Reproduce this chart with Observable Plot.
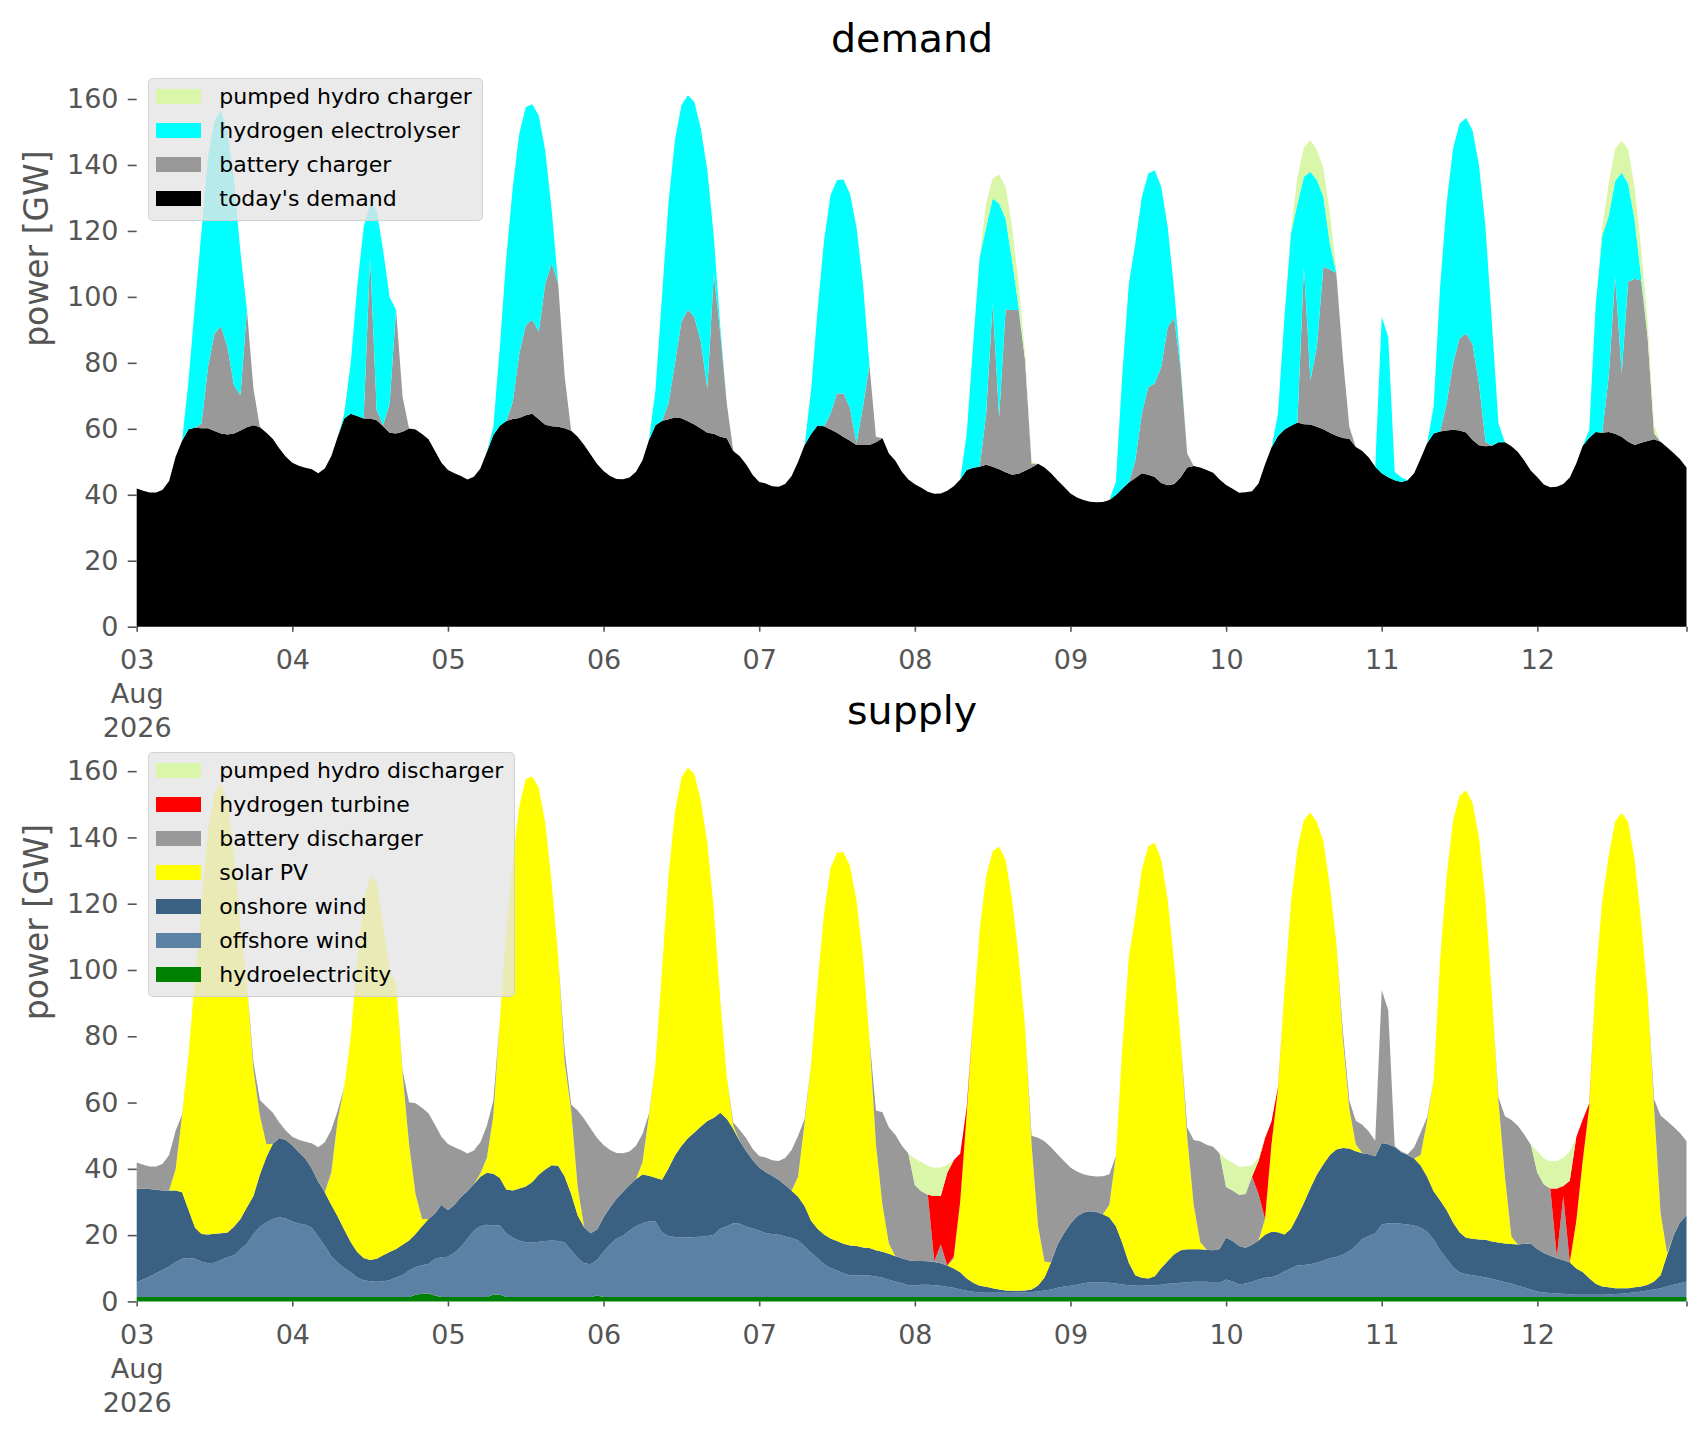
<!DOCTYPE html>
<html>
<head>
<meta charset="utf-8">
<script src="https://cdn.jsdelivr.net/npm/d3@7"></script>
<script src="https://cdn.jsdelivr.net/npm/@observablehq/plot@0.6"></script>
<style>
  body { margin: 0; background: white; }
  #fig { position: relative; width: 1706px; height: 1431px; overflow: hidden; font-family: "DejaVu Sans", sans-serif; }
  #fig svg { position: absolute; left: 0; }
  .legend { position: absolute; box-sizing: border-box; background: rgba(229,229,229,0.8);
            border: 1px solid rgba(204,204,204,0.8); border-radius: 5px; padding-top: 0.5px;
            font-size: 22px; color: black; }
  .legend .row { display: flex; align-items: center; height: 34px; white-space: nowrap; }
  .legend .sw { width: 45px; height: 15px; margin-left: 6.7px; margin-right: 18.3px; flex: none; }
</style>
</head>
<body>
<div id="fig"></div>
<script>
// hourly values, 3 Aug 2026 00:00 to 12 Aug 2026 23:00 (GW), one line per day

// demand panel
const todaysDemand = [
  41.9,41.2,40.7,40.7,41.5,44.2,51.5,56.4,59.9,60.3,60.2,60.2,59.3,58.6,58.3,58.6,59.5,60.5,61.1,60.5,58.8,56.9,54.0,51.5,
  49.7,48.8,48.2,47.7,46.5,48.0,51.7,57.6,63.1,64.6,63.9,63.1,63.1,62.6,60.8,58.8,58.6,59.1,60.1,59.8,58.4,56.8,53.3,49.7,
  47.5,46.5,45.7,44.6,45.5,48.0,53.0,58.1,60.9,62.4,63.0,63.3,64.1,64.6,62.9,61.2,60.8,60.6,60.2,59.4,57.6,55.1,52.2,49.3,
  47.2,45.7,44.8,44.7,45.2,47.0,50.5,56.6,61.1,62.4,62.9,63.4,63.2,62.3,61.3,60.1,58.8,58.5,57.6,57.1,53.3,51.7,49.2,46.0,
  43.9,43.4,42.6,42.4,43.3,45.7,50.0,55.1,58.4,61.0,60.8,59.8,58.8,57.5,56.4,55.1,55.1,55.1,55.9,57.1,52.5,50.3,47.0,44.6,
  43.2,42.1,40.9,40.3,40.4,41.2,42.6,44.6,47.5,48.2,48.5,49.1,48.5,47.7,46.8,46.1,46.4,47.3,48.3,49.4,48.3,46.5,44.4,42.4,
  40.4,39.2,38.4,37.9,37.7,37.8,38.4,39.9,41.9,43.7,45.1,46.5,46.1,45.4,43.6,42.9,43.3,45.3,48.3,48.7,48.3,47.5,46.7,44.6,
  43.0,41.8,40.6,40.8,41.1,43.4,49.2,54.3,57.8,59.8,60.9,61.9,61.4,61.3,60.6,59.9,58.8,57.9,57.2,57.0,54.5,53.3,51.3,48.5,
  46.5,45.3,44.4,43.9,44.4,46.5,51.0,55.6,58.6,59.2,59.5,59.7,59.5,58.9,56.6,55.0,54.7,54.9,55.9,55.9,54.7,53.0,50.3,47.3,
  45.3,43.1,42.3,42.4,43.3,45.2,49.5,54.9,57.3,59.0,58.8,59.0,58.5,57.6,56.1,55.1,55.8,56.3,56.8,56.1,54.4,52.7,50.8,48.3
];
const batteryCharger = [
  0,0,0,0,0,0,0,0,0,0,1.4,18.6,29.6,32.5,26.5,14.6,10.7,35.5,11.1,0,0,0,0,0,
  0,0,0,0,0,0,0,0,0,0,0,0,49.0,3.1,0.3,8.9,37.4,10.6,0,0,0,0,0,0,
  0,0,0,0,0,0,0,0,0,0,5.2,19.5,27.3,28.5,26.5,42.8,49.3,43.4,15.6,0,0,0,0,0,
  0,0,0,0,0,0,0,0,0,0,4.8,16.4,29.2,33.9,32.6,26.3,13.4,48.6,31.3,10.6,0,0,0,0,
  0,0,0,0,0,0,0,0,0,0,0,4.8,11.9,13.2,9.8,0.5,11.6,24.2,1.7,0,0,0,0,0,
  0,0,0,0,0,0,0,0,0,0,0,15.5,49.5,15.9,49.4,49.9,49.6,33.5,1.2,0,0,0,0,0,
  0,0,0,0,0,0,0,0,0,0,5.4,18.1,26.6,28.3,35.2,48.0,50.4,32.5,4.2,0,0,0,0,0,
  0,0,0,0,0,0,0,0,0,0,0,0,47.7,13.4,24.2,49.2,49.5,49.4,24.6,3.6,0,0,0,0,
  0,0,0,0,0,0,0,0,0,0,8.2,20.1,27.9,30.0,29.1,18.7,1.4,0,0,0,0,0,0,0,
  0,0,0,0,0,0,0,0,0,0,0,16.7,47.7,19.3,48.4,50.4,49.2,31.6,1.8,0,0,0,0,0
];
const hydrogenElectrolyser = [
  0,0,0,0,0,0,0,0,14.8,37.7,58.6,63.6,64.6,65.5,65.2,62.2,43.4,0,0,0,0,0,0,0,
  0,0,0,0,0,0,0,0,1.5,15.2,39.1,58.1,16.2,60.6,53.0,32.3,0,0,0,0,0,0,0,0,
  0,0,0,0,0,0,0,2.5,23.9,49.7,65.1,66.7,66.2,65.3,65.6,40.4,16.2,0,0,0,0,0,0,0,
  0,0,0,0,0,0,0,0,10.6,37.6,60.6,67.7,65.7,64.9,65.2,64.6,66.2,11.1,2.0,0,0,0,0,0,
  0,0,0,0,0,0,0,0,13.3,35.0,56.4,66.2,64.7,64.9,65.1,65.6,37.3,0,0,0,0,0,0,0,
  0,0,0,0,0,0,0,0,11.1,37.7,63.6,56.6,31.8,64.7,27.5,15.1,1.0,0,0,0,0,0,0,0,
  0,0,0,0,0,0,0,4.0,34.9,60.3,65.7,65.7,64.7,64.7,54.5,30.3,8.3,1.0,0,0,0,0,0,0,
  0,0,0,0,0,0,0,0,6.8,34.1,58.3,66.4,27.3,63.2,50.6,21.4,7.9,0,0,0,0,0,0,0,
  47.4,42.6,2.5,1.4,0,0,0,0,8.1,43.8,60.6,65.2,65.1,65.3,64.8,66.2,65.1,37.0,5.7,0,0,0,0,0,
  0,0,0,0,0,0,0,0,2.4,38.7,59.7,48.9,28.9,60.7,29.9,17.9,1.2,0,0,0,0,0,0,0
];
const pumpedHydroCharger = [
  0,0,0,0,0,0,0,0,0,0,0,0,0,0,0,0,0,0,0,0,0,0,0,0,
  0,0,0,0,0,0,0,0,0,0,0,0,0,0,0,0,0,0,0,0,0,0,0,0,
  0,0,0,0,0,0,0,0,0,0,0,0,0,0,0,0,0,0,0,0,0,0,0,0,
  0,0,0,0,0,0,0,0,0,0,0,0,0,0,0,0,0,0,0,0,0,0,0,0,
  0,0,0,0,0,0,0,0,0,0,0,0,0,0,0,0,0,0,0,0,0,0,0,0,
  0,0,0,0,0,0,0,0,0,0,0,7.1,6.1,8.9,9.6,10.1,7.0,2.0,0.5,0,0,0,0,0,
  0,0,0,0,0,0,0,0,0,0,0,0,0,0,0,0,0,0,0,0,0,0,0,0,
  0,0,0,0,0,0,0,0,0,0,1.0,8.1,8.9,9.6,9.2,8.4,9.1,1.0,0,0,0,0,0,0,
  0,0,0,0,0,0,0,0,0,0,0,0,0,0,0,0,0,0,0,0,0,0,0,0,
  0,0,0,0,0,0,0,0,0,0,2.4,9.8,9.8,9.8,10.3,9.8,8.6,4.9,2.4,0,0,0,0,0
];

// supply panel
const hydroelectricity = [
  1.3,1.3,1.3,1.3,1.3,1.3,1.3,1.3,1.3,1.3,1.3,1.3,1.3,1.3,1.3,1.3,1.3,1.3,1.3,1.3,1.3,1.3,1.3,1.3,
  1.3,1.3,1.3,1.3,1.3,1.3,1.3,1.3,1.3,1.3,1.3,1.3,1.3,1.3,1.3,1.3,1.3,1.3,1.3,2.0,2.3,2.4,1.8,1.3,
  1.3,1.3,1.3,1.3,1.3,1.3,1.3,2.0,2.0,1.3,1.3,1.3,1.3,1.3,1.3,1.3,1.3,1.3,1.3,1.3,1.3,1.3,1.3,1.8,
  1.3,1.3,1.3,1.3,1.3,1.3,1.3,1.3,1.3,1.3,1.3,1.3,1.3,1.3,1.3,1.3,1.3,1.3,1.3,1.3,1.3,1.3,1.3,1.3,
  1.3,1.3,1.3,1.3,1.3,1.3,1.3,1.3,1.3,1.3,1.3,1.3,1.3,1.3,1.3,1.3,1.3,1.3,1.3,1.3,1.3,1.3,1.3,1.3,
  1.3,1.3,1.3,1.3,1.3,1.3,1.3,1.3,1.3,1.3,1.3,1.3,1.3,1.3,1.3,1.3,1.3,1.3,1.3,1.3,1.3,1.3,1.3,1.3,
  1.3,1.3,1.3,1.3,1.3,1.3,1.3,1.3,1.3,1.3,1.3,1.3,1.3,1.3,1.3,1.3,1.3,1.3,1.3,1.3,1.3,1.3,1.3,1.3,
  1.3,1.3,1.3,1.3,1.3,1.3,1.3,1.3,1.3,1.3,1.3,1.3,1.3,1.3,1.3,1.3,1.3,1.3,1.3,1.3,1.3,1.3,1.3,1.3,
  1.3,1.3,1.3,1.3,1.3,1.3,1.3,1.3,1.3,1.3,1.3,1.3,1.3,1.3,1.3,1.3,1.3,1.3,1.3,1.3,1.3,1.3,1.3,1.3,
  1.3,1.3,1.3,1.3,1.3,1.3,1.3,1.3,1.3,1.3,1.3,1.3,1.3,1.3,1.3,1.3,1.3,1.3,1.3,1.3,1.3,1.3,1.3,1.3
];
const offshoreWind = [
  4.5,5.3,6.2,7.2,8.2,9.2,10.5,11.6,11.8,11.6,10.7,10.2,10.4,11.2,12.0,12.6,14.4,16.1,19.0,21.2,22.5,23.6,24.1,23.7,
  22.8,22.2,21.8,20.9,18.2,15.5,12.3,10.4,8.8,7.5,5.9,5.1,4.8,4.6,4.7,5.1,5.9,6.6,8.0,8.4,8.6,8.9,11.1,12.0,
  12.2,13.4,15.2,17.6,20.1,21.4,21.8,20.9,20.9,19.3,17.9,17.1,16.5,16.4,16.7,16.9,17.1,16.9,16.5,14.1,11.8,10.2,9.9,10.7,
  13.7,15.9,17.7,18.5,20.1,21.4,22.3,22.8,22.8,19.5,18.4,18.1,18.0,18.0,18.1,18.2,18.4,18.8,20.6,21.4,22.3,22.1,21.2,20.7,
  20.1,19.3,19.0,18.8,18.3,17.8,17.1,15.3,13.4,11.8,9.9,8.8,8.0,7.2,6.6,6.6,6.6,6.5,6.2,5.8,5.2,4.7,4.2,3.6,
  3.5,3.7,3.7,3.6,3.4,3.1,2.8,2.3,1.9,1.6,1.4,1.3,1.3,1.3,1.3,1.3,1.4,1.4,1.5,1.7,2.0,2.3,2.8,3.2,
  3.4,3.7,4.2,4.5,4.5,4.4,4.3,4.1,3.8,3.6,3.4,3.4,3.5,3.6,3.7,4.0,4.1,4.3,4.5,4.6,4.6,4.6,4.3,4.3,
  5.3,4.7,3.8,4.1,4.6,5.3,5.8,6.0,6.7,7.8,8.6,9.5,9.7,9.9,10.4,11.0,11.7,12.1,12.8,13.9,15.5,17.5,18.4,19.2,
  21.9,22.3,22.3,22.1,21.9,21.6,20.9,19.7,17.4,14.1,11.6,9.1,7.5,6.9,6.6,6.3,5.9,5.5,5.0,4.5,4.1,3.4,2.9,2.3,
  1.7,1.4,1.2,1.1,1.0,0.8,0.7,0.7,0.7,0.7,0.7,0.8,0.9,1.0,1.2,1.4,1.7,2.0,2.3,2.7,3.2,3.7,4.2,4.7
];
const onshoreWind = [
  28.2,27.4,26.4,25.2,24.0,23.0,21.7,20.0,14.5,9.3,8.3,8.7,8.7,8.1,7.5,8.6,9.2,11.0,11.5,15.8,19.8,22.7,23.9,23.7,
  23.0,21.5,20.0,17.9,16.6,16.1,15.6,13.9,11.6,9.1,7.7,6.7,6.4,7.0,7.9,8.5,8.6,9.2,9.1,9.9,11.8,13.6,13.6,15.9,
  14.0,14.5,15.0,14.3,14.0,14.9,15.7,15.6,14.3,13.2,14.3,15.7,16.9,18.3,20.2,21.6,22.7,22.7,19.9,17.0,12.9,10.9,9.4,9.2,
  10.4,11.1,12.0,13.3,13.7,14.2,14.7,13.8,13.2,15.9,20.4,24.6,27.6,29.9,31.6,33.3,34.7,35.3,35.0,32.4,28.4,24.9,22.8,20.6,
  19.0,18.4,17.6,16.6,15.5,14.3,13.2,12.2,9.6,8.8,9.0,8.9,8.9,8.9,9.0,8.8,8.4,8.3,7.9,7.9,7.9,7.6,7.5,7.5,
  7.4,7.2,7.1,7.0,6.8,6.4,5.8,5.2,3.7,2.7,2.0,1.8,1.4,1.0,0.7,0.6,0.5,0.6,0.8,1.8,3.9,8.2,13.1,16.1,
  18.8,20.6,21.3,21.4,21.2,20.6,19.7,17.3,12.5,6.8,3.2,2.4,2.1,2.7,5.1,6.9,8.8,9.8,9.9,9.8,9.8,9.7,9.8,10.2,
  12.7,12.2,11.6,10.8,11.2,11.8,13.0,13.7,12.9,11.1,12.0,14.9,18.8,23.0,26.6,29.1,31.2,32.4,32.2,30.9,28.5,25.9,24.7,23.3,
  24.6,23.8,23.0,21.6,21.0,20.2,18.8,16.6,14.5,15.1,14.7,13.4,12.1,11.0,11.0,11.1,11.4,11.3,11.5,11.7,11.9,12.5,13.2,13.8,
  12.8,11.9,11.3,10.6,10.1,9.7,7.9,6.9,5.0,3.3,2.5,2.2,1.8,1.7,1.5,1.6,1.5,1.7,2.4,3.9,9.5,14.9,18.3,20.0
];
const solarPV = [
  0,0,0,0,0,0,6.4,23.1,47.1,75.8,99.9,122.2,133.1,136.0,129.2,112.9,88.7,67.6,38.1,17.7,3.8,0,0,0,
  0,0,0,0,0,0,9.6,29.3,42.9,61.9,88.1,108.1,115.8,113.4,100.2,85.1,80.2,51.7,29.0,12.1,2.2,0,0,0,
  0,0,0,0,0,1.0,4.5,17.5,47.6,78.3,99.8,115.4,122.9,122.4,116.8,104.6,85.2,63.1,34.4,25.2,8.5,0,0,0,
  0,0,0,0,0,0,3.7,18.1,34.4,63.3,88.2,103.5,111.2,111.9,108.1,98.2,84.0,62.8,34.0,12.6,1.0,0,0,0,
  0,0,0,0,0,0,6.1,25.0,47.4,74.1,97.0,111.8,117.2,118.2,114.4,104.5,87.7,63.2,32.0,14.2,3.0,0,0,0,
  0,0,0,0,0,0,3.0,21.4,49.7,80.3,107.4,123.9,131.9,133.6,130.0,118.0,100.8,79.5,43.8,17.9,4.8,0,0,0,
  0,0,0,0,0,0,3.9,21.2,59.2,92.3,108.3,123.2,130.5,130.8,123.2,109.0,87.8,63.4,33.8,13.5,2.2,0,0,0,
  0,0,0,0,0,0,4.8,26.4,43.2,73.7,98.3,110.7,115.5,113.3,106.3,97.5,81.1,62.5,33.0,12.0,2.1,0,0,0,
  0,0,0,0,0,0,3.2,17.0,33.5,72.5,100.7,121.2,131.6,135.0,131.6,121.2,102.6,73.8,42.5,20.2,2.2,0,0,0,
  0,0,0,0,0,0,14.3,33.6,51.7,92.4,116.4,130.1,140.9,143.4,140.7,128.9,110.3,87.8,52.4,18.8,0.5,0,0,0
];
const batteryDischarger = [
  7.9,7.2,6.8,7.0,8.0,10.7,11.6,0.4,0,0,0,0,0,0,0,0,0,0,2.3,4.8,11.4,9.3,4.7,2.8,
  2.6,3.8,5.1,7.6,10.4,15.1,12.9,2.7,0,0,0,0,0,0,0,0,0,0.9,12.7,27.4,33.5,31.9,26.8,20.5,
  20.0,17.3,14.2,11.4,10.1,9.4,9.7,4.6,0,0,0,0,0,0,0,0,0,0,3.7,1.8,23.1,32.7,31.6,27.6,
  21.8,17.4,13.8,11.6,10.1,10.1,8.5,0.6,0,0,0,0,0,0,0,0,0,0,0,0,1.0,3.4,3.9,3.4,
  3.5,4.4,4.7,5.7,8.2,12.3,12.3,1.3,0,0,0,0,0,0,0,0,0,0,10.2,27.9,35.1,36.7,34.0,32.2,
  22.9,21.0,20.1,0.2,5.7,0,0.7,0,0,0,0,0,0,0,0,0,0,0,2.6,26.7,36.3,34.7,27.2,21.8,
  16.9,13.6,11.6,10.7,10.7,11.5,9.2,0,0,0,0,0,0,0,0,0,0,0,3.0,19.5,30.4,31.7,31.3,28.8,
  15.2,15.3,15.5,16.2,20.6,14.0,0,0,0,0,0,0,0,0,0,0,0,0,2.5,2.5,7.1,8.6,6.9,4.7,
  46.1,40.5,0.3,0.3,0.2,3.4,6.8,1.0,0,0,0,0,0,0,0,0,0,0,1.3,18.2,35.2,35.8,32.9,29.9,
  23.0,20.7,20.3,0.5,19.4,0,0,0,0,0,0,0,0,0,0,0,0,0,2.6,29.4,39.9,32.8,27.0,22.3
];
const hydrogenTurbine = [
  0,0,0,0,0,0,0,0,0,0,0,0,0,0,0,0,0,0,0,0,0,0,0,0,
  0,0,0,0,0,0,0,0,0,0,0,0,0,0,0,0,0,0,0,0,0,0,0,0,
  0,0,0,0,0,0,0,0,0,0,0,0,0,0,0,0,0,0,0,0,0,0,0,0,
  0,0,0,0,0,0,0,0,0,0,0,0,0,0,0,0,0,0,0,0,0,0,0,0,
  0,0,0,0,0,0,0,0,0,0,0,0,0,0,0,0,0,0,0,0,0,0,0,0,
  0,0,0,19.7,14.6,28.0,29.0,14.4,2.0,0,0,0,0,0,0,0,0,0,0,0,0,0,0,0,
  0,0,0,0,0,0,0,0,0,0,0,0,0,0,0,0,0,0,0,0,0,0,0,0,
  0,0,0,0,0,10.0,24.3,6.9,0.5,0,0,0,0,0,0,0,0,0,0,0,0,0,0,0,
  0,0,0,0,0,0,0,0,0,0,0,0,0,0,0,0,0,0,0,0,0,0,0,0,
  0,0,0,20.6,3.0,24.6,25.3,12.4,1.0,0,0,0,0,0,0,0,0,0,0,0,0,0,0,0
];
const pumpedHydroDischarger = [
  0,0,0,0,0,0,0,0,0,0,0,0,0,0,0,0,0,0,0,0,0,0,0,0,
  0,0,0,0,0,0,0,0,0,0,0,0,0,0,0,0,0,0,0,0,0,0,0,0,
  0,0,0,0,0,0,0,0,0,0,0,0,0,0,0,0,0,0,0,0,0,0,0,0,
  0,0,0,0,0,0,0,0,0,0,0,0,0,0,0,0,0,0,0,0,0,0,0,0,
  0,0,0,0,0,0,0,0,0,0,0,0,0,0,0,0,0,0,0,0,0,0,0,0,
  8.0,8.9,8.7,8.5,8.6,2.4,0,0,0,0,0,0,0,0,0,0,0,0,0,0,0,0,0,0,
  0,0,0,0,0,0,0,0,0,0,0,0,0,0,0,0,0,0,0,0,0,0,0,0,
  8.5,8.3,8.4,8.4,3.4,1.0,0,0,0,0,0,0,0,0,0,0,0,0,0,0,0,0,0,0,
  0,0,0,0,0,0,0,0,0,0,0,0,0,0,0,0,0,0,0,0,0,0,0,0,
  6.5,7.8,8.2,8.3,8.5,8.8,0,0,0,0,0,0,0,0,0,0,0,0,0,0,0,0,0,0
];

// stacking order bottom -> top, with colours
const demandSeries = [
  ["today's demand", todaysDemand, "#000000"],
  ["battery charger", batteryCharger, "#999999"],
  ["hydrogen electrolyser", hydrogenElectrolyser, "#00ffff"],
  ["pumped hydro charger", pumpedHydroCharger, "#daf6a8"]
];
const supplySeries = [
  ["hydroelectricity", hydroelectricity, "#008000"],
  ["offshore wind", offshoreWind, "#5b82a5"],
  ["onshore wind", onshoreWind, "#3b6182"],
  ["solar PV", solarPV, "#ffff00"],
  ["battery discharger", batteryDischarger, "#999999"],
  ["hydrogen turbine", hydrogenTurbine, "#ff0000"],
  ["pumped hydro discharger", pumpedHydroDischarger, "#daf6a8"]
];

const hours = d3.range(240).map(i => new Date(Date.UTC(2026, 7, 3, i)));
const dayTicks = d3.range(10).map(d => new Date(Date.UTC(2026, 7, 3 + d))).concat([hours[239]]);
const dayFmt = d3.utcFormat("%d");
function tickLabel(d) {
  if (+d === +hours[0]) return "03\nAug\n2026";
  if (d.getUTCHours() !== 0) return "";
  return dayFmt(d);
}

function panel(series, title, marginBottom) {
  const names = series.map(s => s[0]);
  const rows = series.flatMap(([name, values]) =>
    values.map((value, i) => ({time: hours[i], series: name, value})));
  return Plot.plot({
    width: 1706,
    height: 756,
    marginLeft: 136.7,
    marginRight: 19.5,
    marginTop: 66,
    marginBottom,
    style: {background: "transparent", fontFamily: "DejaVu Sans"},
    x: {type: "utc", domain: [hours[0], hours[239]], label: null},
    y: {domain: [0, 170], label: null},
    color: {domain: names, range: series.map(s => s[2])},
    marks: [
      Plot.areaY(rows, {x: "time", y: "value", fill: "series", order: names}),
      Plot.axisY({ticks: d3.range(0, 161, 20), tickSize: 9, tickPadding: 9.7, fontSize: 27,
                  color: "#555", strokeWidth: 1.6, label: null}),
      Plot.axisX({ticks: dayTicks, tickFormat: tickLabel, tickSize: 5, tickPadding: 13, fontSize: 27,
                  lineHeight: 1.26, color: "#555", strokeWidth: 1.6, label: null}),
      Plot.text([title], {frameAnchor: "top", lineAnchor: "bottom", dy: -14.3, fontSize: 39.5, fill: "black"}),
      Plot.text(["power [GW]"], {frameAnchor: "left", dx: -99.7, rotate: -90, fontSize: 33, fill: "#555"})
    ]
  });
}

function legend(series, left, top, width) {
  const box = document.createElement("div");
  box.className = "legend";
  Object.assign(box.style, {left: left + "px", top: top + "px", width: width + "px",
                            height: (6.7 + 34 * series.length) + "px"});
  for (const [name, , color] of series.slice().reverse()) {
    const row = document.createElement("div");
    row.className = "row";
    const sw = document.createElement("div");
    sw.className = "sw";
    sw.style.background = color;
    const label = document.createElement("span");
    label.textContent = name;
    row.append(sw, label);
    box.append(row);
  }
  return box;
}

const fig = document.getElementById("fig");
const demandPlot = panel(demandSeries, "demand", 129.3);
demandPlot.style.top = "0px";
const supplyPlot = panel(supplySeries, "supply", 126.6);
supplyPlot.style.top = "672px";
fig.append(demandPlot, supplyPlot);
fig.append(legend(demandSeries, 148.3, 78.3, 335));
fig.append(legend(supplySeries, 148.3, 752, 367));
</script>
</body>
</html>
